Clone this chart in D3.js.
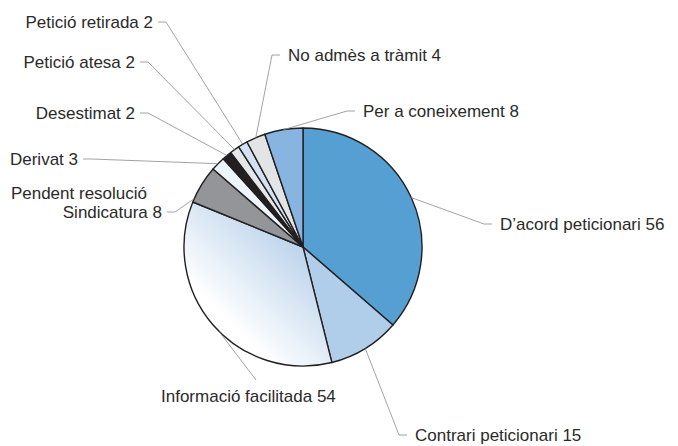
<html>
<head>
<script src="https://d3js.org/d3.v7.min.js"></script>
<style>body{margin:0;background:#fff;}</style>
</head>
<body>
<script>
var width = 678;
var height = 446;
var cx = 303, cy = 247, radius = 119;

// data
var categories = ["D’acord peticionari", "Contrari peticionari", "Informació facilitada",
    "Pendent resolució Sindicatura", "Derivat", "Desestimat", "Petició atesa",
    "Petició retirada", "No admès a tràmit", "Per a coneixement"];
var values = [56, 15, 54, 8, 3, 2, 2, 2, 4, 8];

var fills = ["#569fd3", "#b0cde9", "url(#gradInfo)", "#939598", "#eef4fb",
    "#231f20", "#e6e7e8", "#d2e2f4", "#e3e4e5", "#87b4e0"];

// where each label sits (side, text x, baseline y), optional leader angle in degrees
var layout = [
  {side: "right", x: 500, y: 230},
  {side: "right", x: 415, y: 441},
  {side: "bottom", x: 161, y: 402, ex: 256, ey: 380, angle: 225},
  {side: "left", x: 162, y: 218, x1: 147, y1: 199, angle: 294},
  {side: "left", x: 78, y: 165},
  {side: "left", x: 135, y: 119},
  {side: "left", x: 135, y: 68},
  {side: "left", x: 153, y: 28},
  {side: "right", x: 288, y: 61},
  {side: "right", x: 363, y: 117}
];

var svg = d3.select("body").append("svg")
    .attr("width", width)
    .attr("height", height)
    .style("font-family", "'Liberation Sans', Arial, sans-serif");

var defs = svg.append("defs");
var grad = defs.append("linearGradient")
    .attr("id", "gradInfo")
    .attr("gradientUnits", "userSpaceOnUse")
    .attr("x1", 200).attr("y1", 350)
    .attr("x2", 300).attr("y2", 250);
grad.append("stop").attr("offset", "0").attr("stop-color", "#ffffff");
grad.append("stop").attr("offset", "1").attr("stop-color", "#a6c5e6");

var data = categories.map(function(c, i) { return {name: c, value: values[i], i: i}; });

var pie = d3.pie().sort(null).value(function(d) { return d.value; });
var arc = d3.arc().innerRadius(0).outerRadius(radius);
var arcs = pie(data);

var g = svg.append("g").attr("transform", "translate(" + cx + "," + cy + ")");

g.selectAll("path")
  .data(arcs)
  .enter().append("path")
    .attr("d", arc)
    .attr("fill", function(d) { return fills[d.data.i]; })
    .attr("stroke", "#231f20")
    .attr("stroke-width", 1.4)
    .attr("stroke-linejoin", "round");

// labels & leaders
var labels = svg.append("g")
    .attr("font-size", 17)
    .attr("fill", "#2b2a2a");
var leaders = svg.append("g")
    .attr("fill", "none")
    .attr("stroke", "#8a8c8e")
    .attr("stroke-width", 0.8);

arcs.forEach(function(d) {
  var L = layout[d.data.i];
  var a = L.angle != null ? L.angle * Math.PI / 180 : (d.startAngle + d.endAngle) / 2;
  var px = cx + radius * Math.sin(a);
  var py = cy - radius * Math.cos(a);
  var dy = L.y - 6;

  if (L.side === "left") {
    if (d.data.i === 3) {
      labels.append("text").attr("x", L.x1).attr("y", L.y1)
        .attr("text-anchor", "end").text("Pendent resolució");
      labels.append("text").attr("x", L.x).attr("y", L.y)
        .attr("text-anchor", "end").text("Sindicatura " + d.data.value);
    } else {
      labels.append("text").attr("x", L.x).attr("y", L.y)
        .attr("text-anchor", "end").text(d.data.name + " " + d.data.value);
    }
    leaders.append("path")
      .attr("d", "M" + (L.x + 5) + "," + dy + "H" + (L.x + 13) + "L" + px + "," + py);
  } else if (L.side === "right") {
    labels.append("text").attr("x", L.x).attr("y", L.y)
      .attr("text-anchor", "start").text(d.data.name + " " + d.data.value);
    leaders.append("path")
      .attr("d", "M" + (L.x - 8) + "," + dy + "H" + (L.x - 16) + "L" + px + "," + py);
  } else {
    labels.append("text").attr("x", L.x).attr("y", L.y)
      .attr("text-anchor", "start").text(d.data.name + " " + d.data.value);
    leaders.append("path")
      .attr("d", "M" + px + "," + py + "L" + L.ex + "," + L.ey);
  }
});
</script>
</body>
</html>
